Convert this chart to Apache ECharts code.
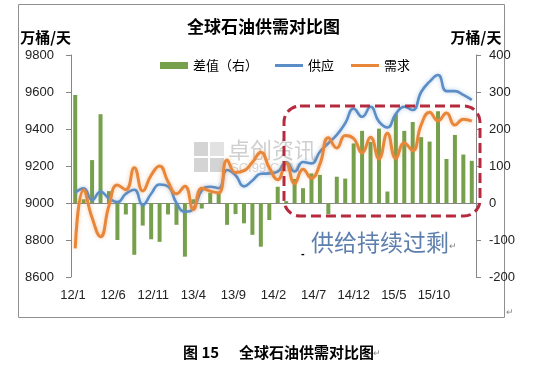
<!DOCTYPE html>
<html><head><meta charset="utf-8">
<script src="https://cdn.jsdelivr.net/npm/echarts@6/dist/echarts.min.js"></script>
<style>html,body{margin:0;padding:0;background:#fff}#c{width:548px;height:365px}</style>
</head><body><div id="c"></div>
<script>
const months = ['12/1','12/2','12/3','12/4','12/5','12/6','12/7','12/8','12/9','12/10','12/11','12/12',
  '13/1','13/2','13/3','13/4','13/5','13/6','13/7','13/8','13/9','13/10','13/11','13/12',
  '14/1','14/2','14/3','14/4','14/5','14/6','14/7','14/8','14/9','14/10','14/11','14/12',
  '15/1','15/2','15/3','15/4','15/5','15/6','15/7','15/8','15/9','15/10','15/11','15/12'];
const xLabels = ['12/1','12/6','12/11','13/4','13/9','14/2','14/7','14/12','15/5','15/10'];
const supply = [9055,9079,9016,9061,9025,9005,9050,9072,8990,9050,9100,9090,
  9000,8953,8970,9068,9088,9080,9178,9150,9090,9122,9158,9160,
  9170,9220,9170,9222,9214,9277,9323,9368,9431,9510,9466,9520,
  9440,9408,9482,9520,9503,9600,9656,9692,9605,9605,9584,9557];
const demand = [8755,9070,8920,8818,8985,9097,9072,9190,9065,9150,9200,9115,
  9050,9090,8965,9080,9064,9055,9232,9165,9175,9220,9275,9190,
  9126,9215,9105,9182,9134,9210,9353,9297,9365,9349,9271,9355,
  9239,9377,9241,9325,9284,9422,9490,9444,9486,9421,9453,9443];
const diff = [292,10,116,240,32,-100,-31,-140,-61,-98,-105,-31,
  -59,-145,10,-15,28,30,-59,-30,-55,-86,-118,-46,
  44,5,65,40,80,76,-30,71,66,161,195,165,
  201,31,241,195,219,178,166,248,119,184,131,114];
const titleText = '全球石油供需对比图';
const unitText = '万桶/天';
const captionNo = '图 15';
const noteText = '供给持续过剩';

const CJK = '"Noto Sans CJK SC", sans-serif';
const LAT = '"Liberation Sans", "Noto Sans CJK SC", sans-serif';
const AX = '#868686';
const LINE_ICON = 'path://M0,0H28V3H0Z';

const chart = echarts.init(document.getElementById('c'), null, {renderer: 'canvas'});
chart.setOption({
  animation: false,
  backgroundColor: '#fff',
  title: {text: titleText, left: 182, top: 13,
    textStyle: {fontFamily: CJK, fontSize: 17, fontWeight: 'bold', color: '#000'}},
  legend: {left: 155, top: 54, itemWidth: 28, itemHeight: 7, itemGap: 17,
    textStyle: {fontFamily: CJK, fontSize: 13, color: '#000'},
    data: [{name: '差值（右）', icon: 'rect'},
           {name: '供应', icon: LINE_ICON},
           {name: '需求', icon: LINE_ICON}]},
  grid: [
    {left: 71, right: 72, top: 55, height: 222, outerBoundsMode: 'none'},
    {left: 73, width: 405, top: 55, height: 222, outerBoundsMode: 'none'}
  ],
  xAxis: [
    {type: 'category', gridIndex: 0, data: months, boundaryGap: true,
      axisLine: {lineStyle: {color: AX}},
      axisTick: {interval: 4, length: 4, lineStyle: {color: AX}},
      axisLabel: {show: false}, splitLine: {show: false}},
    {type: 'value', gridIndex: 1, min: 0, max: 10.1, interval: 1,
      axisLine: {show: false}, axisTick: {show: false}, splitLine: {show: false},
      axisLabel: {margin: 12, fontFamily: LAT, fontSize: 13, color: '#222',
        formatter: v => xLabels[Math.round(v)] || ''}}
  ],
  yAxis: [
    {type: 'value', gridIndex: 0, min: 8600, max: 9800, interval: 200,
      name: unitText, nameLocation: 'end', nameGap: 10,
      nameTextStyle: {align: 'right', fontFamily: CJK, fontSize: 15, fontWeight: 'bold', color: '#000'},
      axisLine: {show: true, lineStyle: {color: AX}},
      axisTick: {show: true, length: 5, lineStyle: {color: AX}},
      axisLabel: {margin: 17, fontFamily: LAT, fontSize: 13, color: '#222', formatter: v => String(v)},
      splitLine: {show: false}},
    {type: 'value', gridIndex: 0, position: 'right', min: -200, max: 400, interval: 100,
      name: unitText, nameLocation: 'end', nameGap: 10,
      nameTextStyle: {align: 'center', fontFamily: CJK, fontSize: 15, fontWeight: 'bold', color: '#000'},
      axisLine: {show: true, lineStyle: {color: AX}},
      axisTick: {show: true, length: 5, lineStyle: {color: AX}},
      axisLabel: {margin: 13, fontFamily: LAT, fontSize: 13, color: '#222', formatter: v => String(v)},
      splitLine: {show: false}},
    {type: 'value', gridIndex: 1, min: 0, max: 1, show: false}
  ],
  series: [
    {name: '差值（右）', type: 'bar', xAxisIndex: 0, yAxisIndex: 1, data: diff, barWidth: 4,
      itemStyle: {color: '#76a04b'}},
    {name: '供应', type: 'line', xAxisIndex: 0, yAxisIndex: 0, data: supply, smooth: 0.5,
      symbol: 'none', itemStyle: {color: '#5b8dc6'},
      lineStyle: {color: '#5b8dc6', width: 2.6, shadowColor: 'rgba(91,141,198,0.45)', shadowBlur: 4}},
    {name: '需求', type: 'line', xAxisIndex: 0, yAxisIndex: 0, data: demand, smooth: 0.5,
      symbol: 'none', itemStyle: {color: '#e8873a'},
      lineStyle: {color: '#e8873a', width: 3, shadowColor: 'rgba(232,135,58,0.45)', shadowBlur: 4}}
  ],
  graphic: [
    {type: 'rect', z: 0, shape: {x: 18.5, y: 4.5, width: 486, height: 313},
      style: {fill: 'none', stroke: '#8f8f8f', lineWidth: 1}},
    {type: 'rect', z: 0, shape: {x: 194, y: 142, width: 14, height: 14}, style: {fill: '#d4d4d4'}},
    {type: 'rect', z: 0, shape: {x: 210, y: 142, width: 14, height: 14}, style: {fill: '#e2e2e2'}},
    {type: 'rect', z: 0, shape: {x: 194, y: 158, width: 14, height: 14}, style: {fill: '#d4d4d4'}},
    {type: 'rect', z: 0, shape: {x: 210, y: 158, width: 14, height: 14}, style: {fill: '#d4d4d4'}},
    {type: 'text', z: 0, style: {x: 228, y: 150, text: '卓创资讯', fontFamily: CJK, fontSize: 22,
      fill: '#cfcfcf', verticalAlign: 'middle'}},
    {type: 'text', z: 0, style: {x: 230, y: 168, text: 'SCI99.COM', fontFamily: LAT, fontSize: 13,
      fill: '#d6d6d6', verticalAlign: 'middle'}},
    {type: 'rect', z: 100, shape: {x: 284, y: 106, width: 196, height: 110, r: 16},
      style: {fill: 'none', stroke: '#b62a3e', lineWidth: 3, lineDash: [10, 5]}},
    {type: 'text', z: 100, style: {x: 311, y: 242, text: noteText, fontFamily: CJK, fontSize: 23,
      fill: '#5d7fae', verticalAlign: 'middle'}},
    {type: 'text', z: 100, style: {x: 449, y: 247, text: '↵', fontFamily: LAT, fontSize: 9,
      fill: '#888', verticalAlign: 'middle'}},
    {type: 'text', z: 100, style: {x: 301, y: 254, text: '-', fontFamily: LAT, fontSize: 11,
      fontWeight: 'bold', fill: '#000', verticalAlign: 'middle'}},
    {type: 'text', z: 100, style: {x: 506, y: 313, text: '↵', fontFamily: LAT, fontSize: 9,
      fill: '#888', verticalAlign: 'middle'}},
    {type: 'text', z: 100, style: {x: 183, y: 352, text: captionNo, fontFamily: CJK, fontSize: 15,
      fontWeight: 'bold', fill: '#000', verticalAlign: 'middle'}},
    {type: 'text', z: 100, style: {x: 239, y: 352, text: titleText, fontFamily: CJK, fontSize: 15,
      fontWeight: 'bold', fill: '#000', verticalAlign: 'middle'}},
    {type: 'text', z: 100, style: {x: 373, y: 354, text: '↵', fontFamily: LAT, fontSize: 9,
      fill: '#888', verticalAlign: 'middle'}}
  ]
});
</script></body></html>
